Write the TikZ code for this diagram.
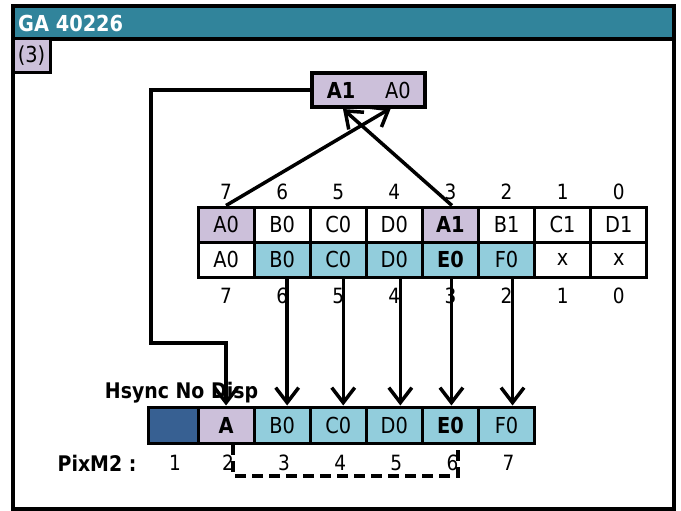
\documentclass[tikz,border=0pt]{standalone}
\usepackage{fontspec}
\setmainfont{DejaVu Sans}[FakeStretch=0.88]
\usetikzlibrary{arrows.meta}
\definecolor{teal1}{HTML}{31849B}
\definecolor{lav}{HTML}{CCC0DA}
\definecolor{lblue}{HTML}{92CDDC}
\definecolor{dblue}{HTML}{376092}
\begin{document}
\begin{tikzpicture}[x=1pt,y=-1pt,
  font=\fontsize{22}{24}\selectfont,
  cell/.style={draw, line width=3pt, minimum width=56.1pt, minimum height=35pt, inner sep=0pt, anchor=center},
  bcell/.style={cell, minimum height=36pt},
  lbl/.style={inner sep=0pt, anchor=center, font=\fontsize{21}{24}\selectfont},
  boldlbl/.style={inner sep=0pt, font=\fontsize{21.5}{24}\selectfont\bfseries},
  arr/.style={line width=3.5pt, -{Straight Barb[length=15pt,width=23pt,line width=3.5pt]}},
  dashline/.style={line width=3.5pt, dash pattern=on 11pt off 6pt}]
\useasboundingbox (0,0) rectangle (681,511);
% frame and title
\fill[teal1] (13,6) rectangle (674,39);
\draw[line width=3.5pt] (13,39) -- (674,39);
\draw[line width=3.5pt] (13,6) rectangle (674,509);
\node[anchor=west, text=white, inner sep=0pt, font=\fontsize{22}{24}\selectfont\bfseries] (title) at (18,23) {GA 40226};
\node[draw, fill=lav, line width=3pt, minimum width=37pt, minimum height=34pt, inner sep=0pt] (tag) at (31.5,56) {(3)};
% top box
\node[draw, fill=lav, line width=3.5pt, minimum width=113pt, minimum height=34pt, inner sep=0pt] (topbox) at (368.5,90) {};
\node[inner sep=0pt, font=\fontsize{22}{24}\selectfont\bfseries] (ta1) at (341,90) {A1};
\node[inner sep=0pt] (ta0) at (398,90) {A0};
\coordinate (tipA1) at (343,109);
\coordinate (tipA0) at (391,108);
% middle table
\foreach \i/\t/\c in {0/A0/lav,1/B0/white,2/C0/white,3/D0/white,4/\textbf{A1}/lav,5/B1/white,6/C1/white,7/D1/white}{
  \node[cell, fill=\c] (r1c\i) at ({226.05+56.1*\i},224.5) {\t};
}
\foreach \i/\t/\c in {0/A0/white,1/B0/lblue,2/C0/lblue,3/D0/lblue,4/\textbf{E0}/lblue,5/F0/lblue,6/x/white,7/x/white}{
  \node[cell, fill=\c] (r2c\i) at ({226.05+56.1*\i},259.5) {\t};
}
\foreach \i/\n in {0/7,1/6,2/5,3/4,4/3,5/2,6/1,7/0}{
  \node[lbl] (tl\i) at ({226.05+56.1*\i},192) {\n};
  \node[lbl] (bl\i) at ({226.05+56.1*\i},296) {\n};
}
% bottom row
\node[bcell, fill=dblue, minimum width=51pt] (p1) at (173.5,425) {};
\foreach \i/\t/\c in {2/\textbf{A}/lav,3/B0/lblue,4/C0/lblue,5/D0/lblue,6/\textbf{E0}/lblue,7/F0/lblue}{
  \node[bcell, fill=\c] (p\i) at ({226.05+56.1*(\i-2)},425) {\t};
}
\node[lbl] (n1) at (175,463) {1};
\foreach \i in {2,...,7}{
  \node[lbl] (n\i) at ({228+56.1*(\i-2)},463) {\i};
}
\node[boldlbl] (pix) at (97,463) {PixM2 :};
\node[boldlbl] (hs) at (181.5,393) {Hsync No Disp};
% arrows
\draw[arr] (r1c0.north) -- (tipA0);
\draw[arr] ([xshift=1.5pt]r1c4.north) -- (tipA1);
\coordinate (turn) at (151,343);
\draw[arr] (topbox.west) -| (turn) -| (p2.north);
\foreach \i/\s in {1/5,2/5,3/6,4/1,5/6}{
  \pgfmathtruncatemacro{\j}{\i+2}
  \draw[arr] ([xshift=\s pt]r2c\i.south) -- ([xshift=\s pt]p\j.north);
}
% dashed bracket
\coordinate (d1) at (233,444);
\coordinate (d2) at (233,476);
\coordinate (d3) at (458,476);
\coordinate (d4) at (458,444);
\draw[dashline] (d1) -- (d2) -- (d3) -- (d4);
\end{tikzpicture}
\end{document}
